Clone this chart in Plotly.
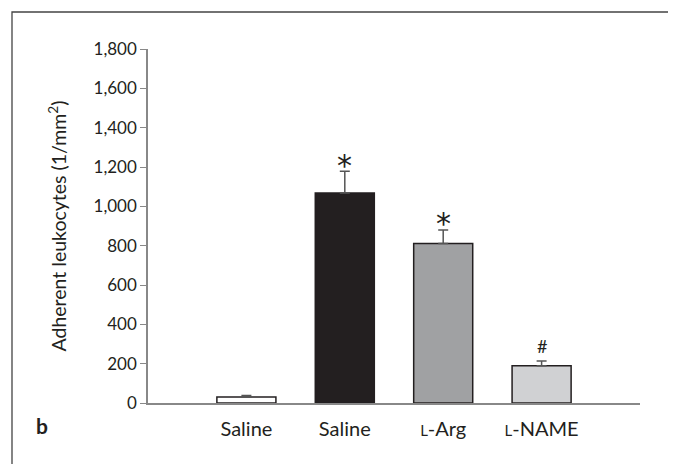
import plotly.graph_objects as go

categories = ["Saline", "Saline", "<span style='font-size:15px'>L</span>-Arg", "<span style='font-size:15px'>L</span>-NAME"]
positions = [1, 2, 3, 4]
values = [30, 1068, 811, 190]
errors = [8, 110, 69, 23]
colors = ["#ffffff", "#231f20", "#a0a1a3", "#d0d1d3"]
marks = ["", "*", "*", "#"]
yticks = [0, 200, 400, 600, 800, 1000, 1200, 1400, 1600, 1800]
ytick_text = ["0", "200", "400", "600", "800", "1,000", "1,200", "1,400", "1,600", "1,800"]

FONT = "Lato"
W, H = 676, 464
ML, MR, MT, MB = 140, 44, 41, 69
PW, PH = W - ML - MR, H - MT - MB


def px_to_paper(xp, yp):
    # screen pixel (with 8px page offset) -> paper coords
    return (xp - 8 - ML) / PW, (H - MB - (yp - 8)) / PH


fig = go.Figure()
fig.add_trace(go.Bar(
    x=positions, y=values, width=0.6,
    marker=dict(color=colors, line=dict(color="#231f20", width=1.5)),
    error_y=dict(type="data", array=errors, arrayminus=[0]*4, symmetric=False,
                 color="#555555", thickness=1.5, width=5),
    showlegend=False,
))

for p, v, e, m in zip(positions, values, errors, marks):
    if m == "*":
        fig.add_annotation(x=p, y=v + e, text=m, showarrow=False, yanchor="middle", yshift=6,
                           font=dict(family="DejaVu Sans", size=30, color="#231f20"))
    elif m:
        fig.add_annotation(x=p, y=v + e, text=m, showarrow=False, yanchor="middle", yshift=15,
                           font=dict(family=FONT, size=18, color="#231f20"))

bx, by = px_to_paper(34, 440)
fig.add_annotation(xref="paper", yref="paper", x=bx, y=by, text="<b>b</b>",
                   showarrow=False, font=dict(family=FONT, size=21, color="#231f20"))

x0, y1 = px_to_paper(12, 12)
x1, y0 = px_to_paper(674, 480)
fig.add_shape(type="rect", xref="paper", yref="paper", x0=x0, x1=x1, y0=y0, y1=y1,
              line=dict(color="#444444", width=1.3), fillcolor="rgba(0,0,0,0)")

fig.update_layout(
    width=W, height=H,
    margin=dict(l=ML, r=MR, t=MT, b=MB),
    paper_bgcolor="white", plot_bgcolor="white",
    font=dict(family=FONT, size=16, color="#231f20"),
)
fig.update_xaxes(range=[0, 5], tickvals=positions, ticktext=categories, showline=True,
                 linecolor="#888888", linewidth=1.5, ticks="", showgrid=False, zeroline=False,
                 ticklabelstandoff=7, tickfont=dict(family=FONT, size=20, color="#231f20"))
fig.update_yaxes(range=[0, 1800], tickvals=yticks, ticktext=ytick_text, showline=True,
                 linecolor="#888888", linewidth=1.5, ticks="outside", ticklen=6, tickcolor="#888888",
                 tickwidth=1.2, showgrid=False, zeroline=False,
                 title=dict(text="Adherent leukocytes (1/mm<sup>2</sup>)", standoff=22,
                            font=dict(family=FONT, size=19.5, color="#231f20")),
                 tickfont=dict(family=FONT, size=17, color="#231f20"))

fig.write_html("out.html")
